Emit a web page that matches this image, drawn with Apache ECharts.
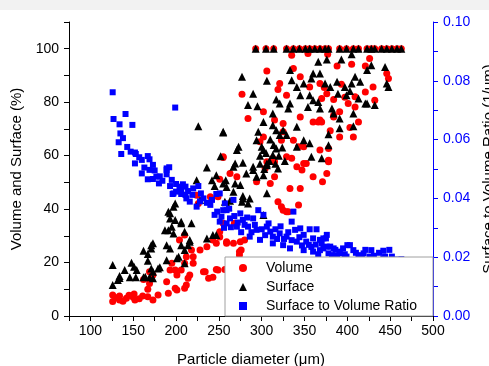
<!DOCTYPE html>
<html>
<head>
<meta charset="utf-8">
<script src="https://cdn.jsdelivr.net/npm/echarts@6/dist/echarts.min.js"></script>
<style>
  html, body { margin: 0; padding: 0; background: #fff; }
  #chart { width: 489px; height: 366px; }
</style>
</head>
<body>
<div id="chart"></div>
<script>
// particle diameter (um) vs volume %, surface %, and surface/volume ratio (1/um)
const fullDiameters = [293, 305, 314, 329, 337, 344, 351, 356, 362, 368, 374, 378,
  391, 399, 407, 413, 423, 428, 432, 440, 446, 452, 458, 463];

const volumePoints = [
  [126, 7.9], [126, 5.4], [134, 7.5], [134, 6.0], [142, 6.6], [150, 7.0], [152, 6.0], [151, 8.2],
  [161, 7.5], [167, 7.2], [173, 6.0], [179, 7.9], [138, 5.5], [145, 7.8], [157, 6.5], [130, 6.8],
  [167, 10], [169, 12.2], [162, 13.7], [173, 15.3], [189, 12.8], [191, 8.5], [199, 10.4], [201, 9.7],
  [210, 10.4], [212, 11.6], [214, 14.1], [216, 15.3], [201, 15.3], [199, 17.2], [193, 17.2], [195, 19.7],
  [206, 17.2], [210, 19.7], [212, 22.2], [220, 22.2], [220, 19.7], [218, 24.7], [228, 24.7], [236, 25.9],
  [243, 28.4], [247, 27.2], [234, 16.6], [243, 14.5], [247, 17.4], [257, 17.4], [259, 27.2], [251, 29.6],
  [210, 30.3], [204, 28.4], [169, 16.6], [232, 16.6], [238, 14.1], [249, 17.2], [267, 27.2], [259, 27.8],
  [276, 24.7], [280, 28.4], [274, 22.8], [275, 27.8], [274, 24],
  [224, 45.2], [240, 44.6], [249, 44.6], [226, 42.1], [255, 59.3], [251, 51.2], [268, 34.7], [255, 34.7],
  [251, 31.5], [263, 53.3], [294, 50.2], [310, 49.6], [315, 57.7], [341, 55.8], [352, 57.1], [347, 54.6],
  [360, 52.1], [376, 53.3], [333, 47.7], [345, 47.7], [343, 41.5], [319, 42.7], [323, 40.9], [329, 39],
  [331, 39], [325, 39.6], [378, 57.7], [371, 50.2], [271, 52.1], [315, 52.1], [304, 55.2],
  [335, 97.6], [354, 98.2], [306, 91.7], [337, 92.6], [321, 87], [319, 84.7], [277, 83], [284, 73.9],
  [302, 76.4], [329, 82.6], [345, 89.5], [356, 85.7], [368, 87], [370, 81.4], [376, 83.2], [345, 74.5],
  [360, 72.6], [368, 73.3], [315, 73.3], [325, 72], [323, 65.8], [302, 67], [298, 65.2], [349, 63.3],
  [368, 62.1], [335, 59], [349, 57.1], [313, 59], [255, 59.6], [306, 57.7], [337, 65.8], [343, 63.3],
  [329, 59.6], [378, 58.3], [325, 68.9], [384, 75.1], [366, 72.6],
  [377, 97.9], [426, 96.3], [388, 93.5], [405, 94.2], [421, 93.5], [446, 90.7], [448, 88.9], [393, 86.7],
  [430, 85.7], [421, 83.8], [397, 81.8], [384, 81], [409, 82], [401, 79.5], [432, 80.7], [409, 78.2],
  [391, 76.4], [384, 74.5], [413, 72.6], [403, 70.5], [380, 69.3], [391, 67], [407, 67], [370, 72.6],
  [378, 62.7], [378, 58.1], [373, 85.5]
];

const surfacePoints = [
  [126, 19.1], [126, 11.6], [134, 15], [132, 13.5], [140, 17.2], [148, 19.9], [151, 18.4], [154, 17.2],
  [146, 14.5], [153, 14.5], [162, 14.5], [169, 14.5], [162, 24.4], [167, 23.2], [171, 26.5], [167, 20.7],
  [173, 16.6], [181, 18.2], [189, 26.5], [193, 25.3], [189, 20.9], [191, 39], [193, 36.5], [195, 33.4],
  [191, 32.1], [197, 30.9], [199, 42.1], [206, 35.3], [206, 26.5], [214, 26.5], [218, 34.7], [216, 28.4],
  [203, 22.2], [236, 29], [243, 30.3], [247, 30.3], [197, 40.9], [193, 38.4], [199, 35.9], [206, 34.7],
  [210, 31.5], [216, 27.8], [210, 24.7], [210, 19.7], [201, 21.6], [187, 32.1], [173, 27.2], [171, 25.3],
  [179, 17.8], [164, 14.7], [173, 14.1], [171, 17.8], [134, 14.2],
  [226, 71], [255, 68.7], [252, 59.8], [236, 55.6], [224, 50.8], [242, 50.8], [247, 52.7], [245, 48.6],
  [258, 50.8], [228, 43.4], [263, 43.1], [278, 44.9], [269, 57.1], [278, 57.3], [282, 53.3], [290, 54.6],
  [294, 52.1], [302, 52.7], [306, 57.1], [319, 55.2], [255, 49.6], [259, 48.3], [269, 49.6], [275, 49],
  [267, 46.5], [278, 44], [277, 42.7], [286, 44], [284, 42.1], [306, 45.9], [257, 42.7], [261, 40.9],
  [302, 37.8], [290, 55.8], [306, 56.4], [267, 55.8], [271, 62.1], [273, 63.3], [255, 68.9],
  [298, 60], [305, 61], [309, 58], [314, 64], [320, 60], [324, 63], [310, 66], [298, 57], [303, 55],
  [316, 57], [327, 58],
  [277, 89.5], [306, 88], [290, 83.2], [284, 78.9], [295, 78.5], [302, 72.6], [313, 75.8], [317, 81],
  [321, 79.5], [331, 77.6], [333, 79.5], [335, 88.2], [341, 85.7], [349, 87], [358, 88.9], [360, 90.7],
  [368, 90.7], [366, 95.1], [356, 82.6], [360, 80.7], [345, 82.6], [354, 78.2], [366, 80.1], [313, 71.4],
  [317, 69.5], [325, 69.5], [329, 67.7], [321, 67.7], [296, 68.9], [294, 65.8], [300, 63.3], [302, 62.1],
  [313, 60.2], [317, 62.7], [341, 70.8], [349, 65.8], [356, 64.6], [358, 59.6], [341, 63.3], [333, 92],
  [405, 97.9], [393, 96], [376, 96], [428, 93.8], [423, 92], [409, 89.5], [415, 87.6], [446, 87],
  [448, 85.7], [388, 87.6], [374, 87], [380, 85.7], [397, 85.7], [405, 87], [389, 83.2], [399, 82.6],
  [403, 84.2], [413, 81.4], [423, 79.5], [432, 78.9], [368, 77.6], [382, 77.6], [384, 75.8], [391, 73.9],
  [407, 75.8], [391, 70.2], [407, 71], [378, 68], [378, 63.9], [370, 59], [444, 93.2], [421, 79.5]
];

const ratioPoints = [
  [126, 0.0761], [199, 0.0709], [141, 0.0687], [127, 0.067], [134, 0.0652], [149, 0.065], [135, 0.0621],
  [133, 0.0591], [136, 0.0551], [147, 0.0559], [153, 0.0551], [152, 0.0519], [160, 0.0531], [167, 0.0544],
  [169, 0.0533], [173, 0.0514], [169, 0.0497], [160, 0.0485], [167, 0.0465], [173, 0.0466], [177, 0.0474],
  [180, 0.0451], [189, 0.0497], [192, 0.0506], [189, 0.0482], [195, 0.0463], [193, 0.0442], [200, 0.0449],
  [204, 0.044], [206, 0.0429], [200, 0.0423], [196, 0.0415], [211, 0.044], [220, 0.0434], [226, 0.0442],
  [211, 0.0412], [229, 0.0417], [247, 0.0415], [152, 0.0556], [189, 0.0502],
  [197, 0.0417], [206, 0.0415], [216, 0.0389], [224, 0.0372], [212, 0.040], [232, 0.040], [240, 0.0378],
  [245, 0.0344], [251, 0.0321], [255, 0.036], [259, 0.0315],
  [251, 0.0417], [257, 0.0383], [267, 0.0395], [259, 0.036], [253, 0.0338], [263, 0.0332], [275, 0.0349],
  [278, 0.0327], [271, 0.0304], [284, 0.0304], [290, 0.0332], [296, 0.036], [302, 0.0344], [294, 0.0293],
  [306, 0.0304], [310, 0.0287], [313, 0.027], [321, 0.0281], [329, 0.027], [335, 0.0321], [337, 0.0355],
  [339, 0.0293], [345, 0.0298], [349, 0.0276], [341, 0.0253], [352, 0.0253], [360, 0.0264], [368, 0.0259],
  [376, 0.0276], [325, 0.0241], [313, 0.0247], [298, 0.0259], [286, 0.027], [333, 0.023], [349, 0.0224],
  [360, 0.0219], [372, 0.023],
  [372, 0.0264], [376, 0.0236], [368, 0.0224], [384, 0.023], [382, 0.0207], [391, 0.0213], [403, 0.0241],
  [407, 0.0224], [413, 0.0207], [419, 0.0213], [428, 0.0224], [426, 0.0202], [442, 0.0222], [444, 0.0202],
  [452, 0.0202], [463, 0.0193],
  [400, 0.0241], [423, 0.019], [428, 0.0185], [434, 0.019], [442, 0.0196], [446, 0.0168], [454, 0.0185],
  [461, 0.0181], [465, 0.0188], [415, 0.0202], [356, 0.0295], [364, 0.0295], [375, 0.0264], [380, 0.0236],
  [391, 0.0219], [399, 0.0202],
  [262, 0.0365], [268, 0.034], [272, 0.0318], [280, 0.031], [283, 0.0335], [288, 0.0285], [292, 0.031],
  [300, 0.0295], [304, 0.0275], [308, 0.0315], [316, 0.0295], [318, 0.0262], [322, 0.0305], [326, 0.0262],
  [331, 0.0285], [335, 0.0258], [344, 0.0268], [347, 0.024], [355, 0.0242], [358, 0.0235], [363, 0.0243],
  [366, 0.021], [370, 0.0247], [378, 0.0213], [386, 0.0225], [388, 0.0205], [395, 0.023], [397, 0.021],
  [410, 0.0215], [417, 0.0196], [421, 0.0225], [431, 0.0205], [437, 0.0215], [449, 0.0225], [456, 0.0192],
  [264, 0.0302], [276, 0.0285], [256, 0.03], [248, 0.0355], [242, 0.0395], [236, 0.0385], [228, 0.039],
  [219, 0.0412], [214, 0.0425], [208, 0.0448], [184, 0.046], [181, 0.0475], [175, 0.0495], [163, 0.0505],
  [157, 0.054], [143, 0.0575], [138, 0.0605]
];

const volumeData = volumePoints.concat(fullDiameters.map(d => [d, 100]));
const surfaceData = surfacePoints.concat(fullDiameters.map(d => [d, 100]));

const font = 'Liberation Sans, Arial, sans-serif';
const blue = '#0000ff';

const chart = echarts.init(document.getElementById('chart'));

chart.setOption({
  animation: false,
  graphic: [{
    type: 'rect',
    left: 0, top: 0,
    shape: { width: 489, height: 10 },
    style: { fill: '#f2f2f2' },
    z: -1
  }],
  grid: {
    left: 69, right: 56, top: 22, bottom: 50,
    containLabel: false,
    outerBoundsMode: 'none'
  },
  legend: {
    orient: 'vertical',
    left: 225,
    top: 257,
    padding: [2, 16, 1, 14],
    itemGap: 1,
    itemWidth: 8,
    itemHeight: 8,
    backgroundColor: '#fff',
    borderColor: '#a0a0a0',
    borderWidth: 1,
    borderRadius: 0,
    textStyle: { fontFamily: font, fontSize: 14, color: '#000', lineHeight: 18, padding: [0, 0, 0, 14] },
    data: ['Volume', 'Surface', 'Surface to Volume Ratio']
  },
  xAxis: [{
    type: 'value',
    min: 75, max: 500, interval: 25,
    name: 'Particle diameter (\u03bcm)',
    nameLocation: 'middle',
    nameGap: 36,
    nameTextStyle: { fontFamily: font, fontSize: 15, color: '#000' },
    axisLine: { show: true, lineStyle: { color: '#000', width: 1 } },
    axisTick: { show: true, inside: false, length: 5, lineStyle: { color: '#000' } },
    axisLabel: {
      fontFamily: font, fontSize: 14, color: '#000', margin: 8,
      formatter: v => (v % 50 === 0 ? String(v) : '')
    },
    splitLine: { show: false }
  }, {
    type: 'value',
    position: 'top',
    min: 75, max: 500, interval: 25,
    axisLine: { show: true, lineStyle: { color: '#000', width: 1 } },
    axisTick: { show: true, inside: true, length: 4, lineStyle: { color: '#000' } },
    axisLabel: { show: false },
    splitLine: { show: false }
  }],
  yAxis: [{
    type: 'value',
    min: 0, max: 110, interval: 10,
    name: 'Volume and Surface (%)',
    nameLocation: 'middle',
    nameRotate: 90,
    nameGap: 44,
    nameTextStyle: { fontFamily: font, fontSize: 15, color: '#000' },
    axisLine: { show: true, lineStyle: { color: '#000', width: 1 } },
    axisTick: { show: true, inside: false, length: 5, lineStyle: { color: '#000' } },
    axisLabel: {
      fontFamily: font, fontSize: 14, color: '#000', margin: 10,
      formatter: v => (v % 20 === 0 ? String(v) : '')
    },
    splitLine: { show: false }
  }, {
    type: 'value',
    position: 'right',
    min: 0, max: 0.1, interval: 0.01,
    name: 'Surface to Volume Ratio (1/\u03bcm)',
    nameLocation: 'middle',
    nameRotate: 90,
    nameGap: 45,
    nameTextStyle: { fontFamily: font, fontSize: 15, color: '#000', verticalAlign: 'top' },
    axisLine: { show: true, lineStyle: { color: blue, width: 1 } },
    axisTick: { show: true, inside: false, length: 5, lineStyle: { color: blue } },
    axisLabel: {
      fontFamily: font, fontSize: 14, color: blue, margin: 10,
      formatter: v => {
        const k = Math.round(v * 100);
        return k % 2 === 0 ? (k / 100).toFixed(2) : '';
      }
    },
    splitLine: { show: false }
  }],
  series: [{
    name: 'Volume',
    type: 'scatter',
    xAxisIndex: 0, yAxisIndex: 0,
    symbol: 'circle',
    symbolSize: 7,
    itemStyle: { color: '#ff0000', opacity: 1 },
    data: volumeData
  }, {
    name: 'Surface',
    type: 'scatter',
    xAxisIndex: 0, yAxisIndex: 0,
    symbol: 'triangle',
    symbolSize: 8,
    itemStyle: { color: '#000000', opacity: 1 },
    data: surfaceData
  }, {
    name: 'Surface to Volume Ratio',
    type: 'scatter',
    xAxisIndex: 0, yAxisIndex: 1,
    symbol: 'rect',
    symbolSize: 6,
    itemStyle: { color: blue, opacity: 1 },
    data: ratioPoints
  }]
});
</script>
</body>
</html>
